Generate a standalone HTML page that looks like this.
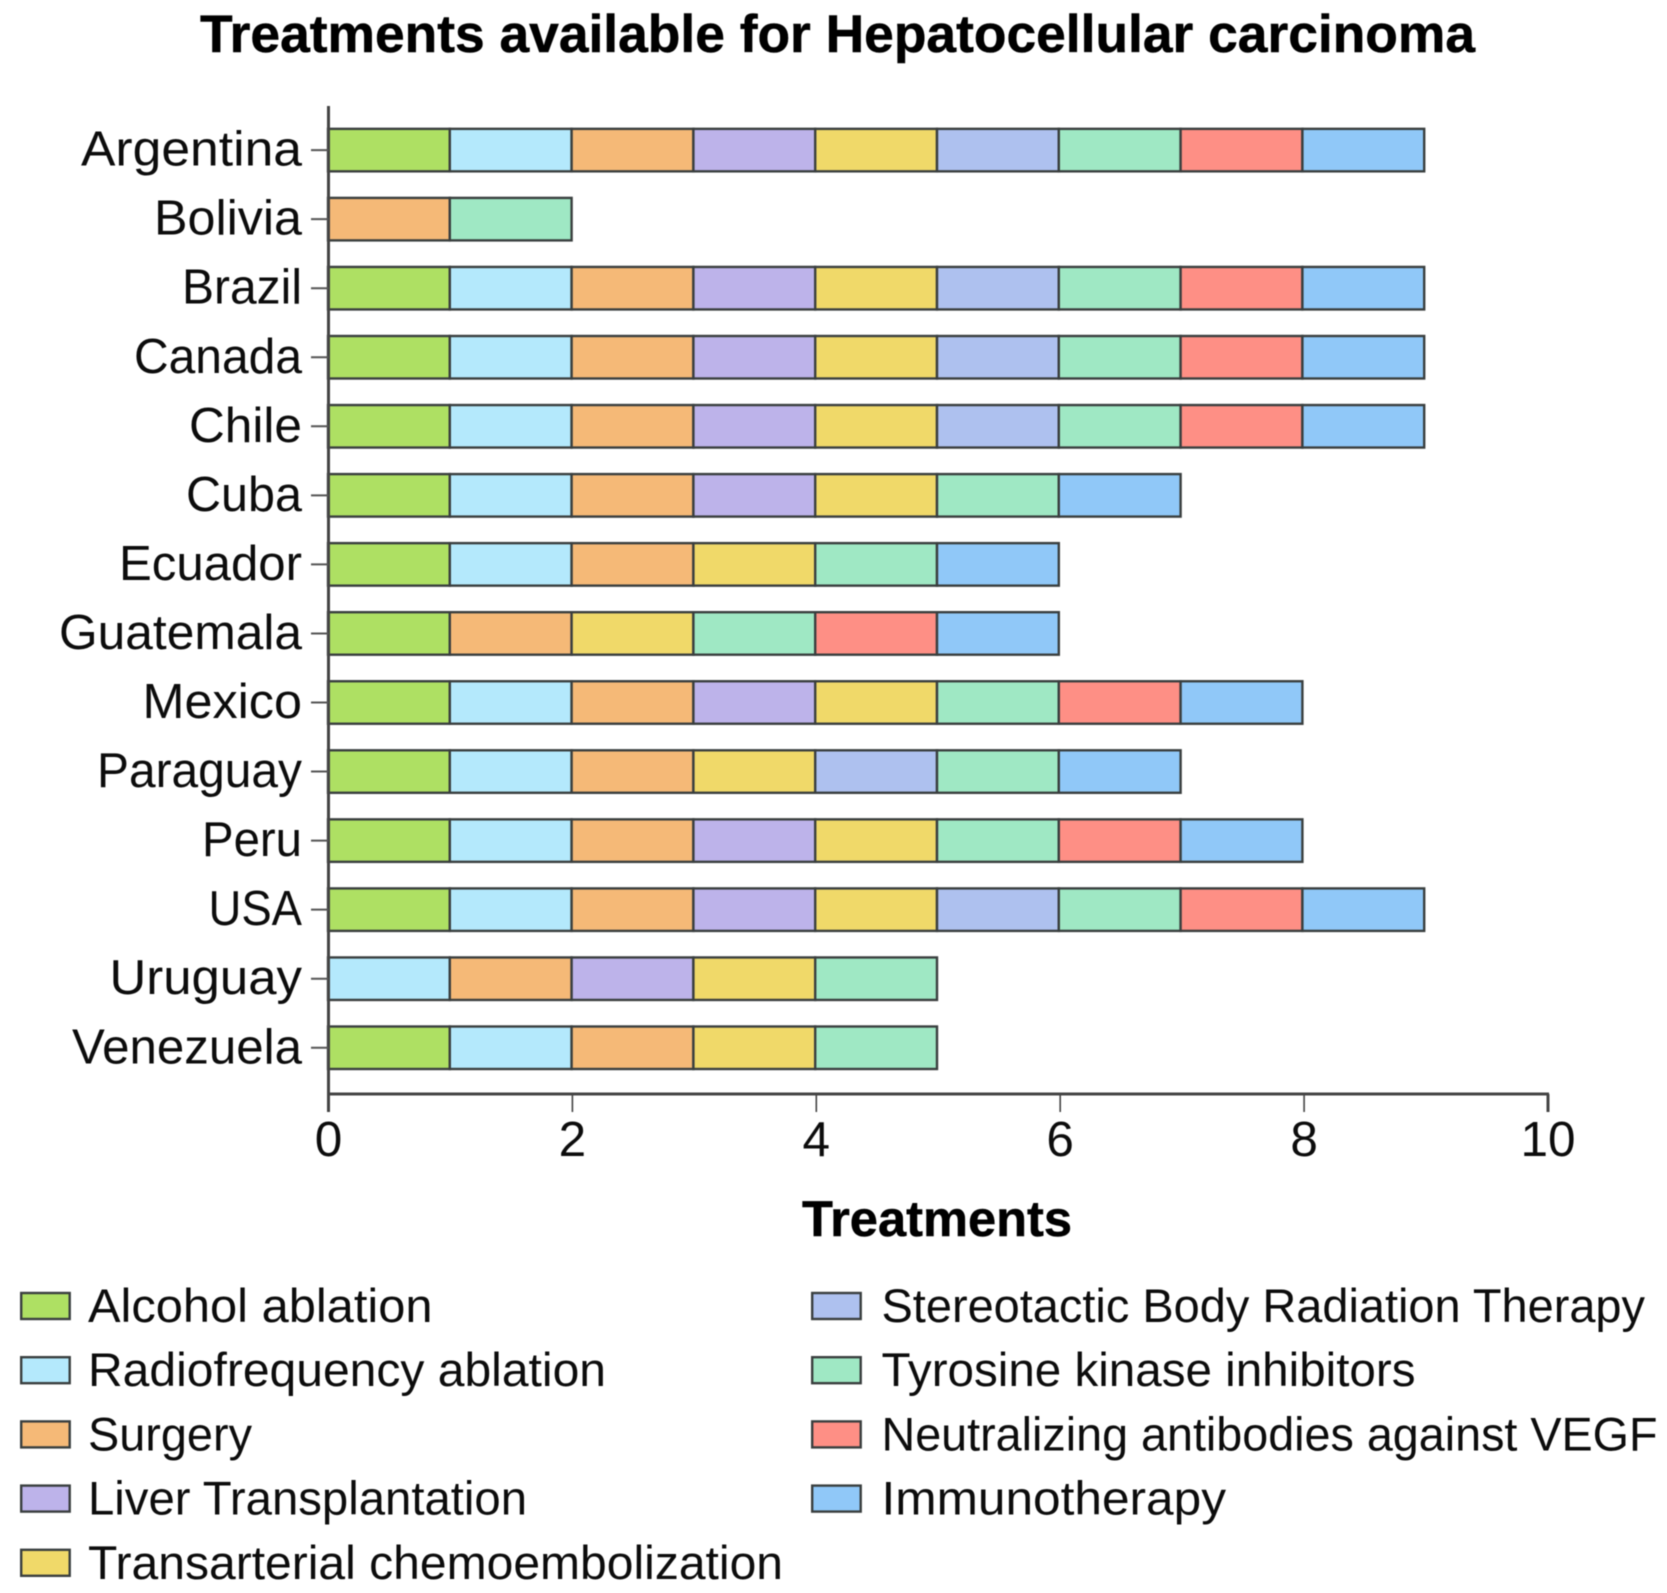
<!DOCTYPE html>
<html lang="en">
<head>
<meta charset="utf-8">
<title>Treatments available for Hepatocellular carcinoma</title>
<style>
html,body{margin:0;padding:0;background:#fff;width:1667px;height:1593px;overflow:hidden}
svg{display:block;filter:blur(0.5px)}
text{font-family:"Liberation Sans",sans-serif;fill:#0c0c0c}
</style>
</head>
<body>
<svg id="chart" xmlns="http://www.w3.org/2000/svg" width="1667" height="1593" viewBox="0 0 1667 1593">
  <text x="837.5" y="52" text-anchor="middle" font-size="53" font-weight="700" textLength="1275" lengthAdjust="spacingAndGlyphs" style="fill:#000;stroke:#000;stroke-width:0.5">Treatments available for Hepatocellular carcinoma</text>
  <text x="937" y="1236" text-anchor="middle" font-size="50" font-weight="700" textLength="270" lengthAdjust="spacingAndGlyphs" style="fill:#000;stroke:#000;stroke-width:0.5">Treatments</text>
  <g id="bars"></g>
  <g id="axes"></g>
  <g id="legend"></g>
</svg>
<script>
const countries = ["Argentina","Bolivia","Brazil","Canada","Chile","Cuba","Ecuador","Guatemala","Mexico","Paraguay","Peru","USA","Uruguay","Venezuela"];
const xTicks = [0,2,4,6,8,10];
const seriesNames = ["Alcohol ablation","Radiofrequency ablation","Surgery","Liver Transplantation","Transarterial chemoembolization","Stereotactic Body Radiation Therapy","Tyrosine kinase inhibitors","Neutralizing antibodies against VEGF","Immunotherapy"];
const seriesColors = ["#aee063","#b4e9fc","#f5b977","#bdb3ea","#f0d969","#aec1ef","#9fe8c4","#fe8f85","#90c8f8"];
const alcoholAblation = [1,0,1,1,1,1,1,1,1,1,1,1,0,1];
const radiofrequencyAblation = [1,0,1,1,1,1,1,0,1,1,1,1,1,1];
const surgery = [1,1,1,1,1,1,1,1,1,1,1,1,1,1];
const liverTransplantation = [1,0,1,1,1,1,0,0,1,0,1,1,1,0];
const transarterialChemo = [1,0,1,1,1,1,1,1,1,1,1,1,1,1];
const stereotacticRadiation = [1,0,1,1,1,0,0,0,0,1,0,1,0,0];
const tyrosineKinase = [1,1,1,1,1,1,1,1,1,1,1,1,1,1];
const antiVegf = [1,0,1,1,1,0,0,1,1,0,1,1,0,0];
const immunotherapy = [1,0,1,1,1,1,1,1,1,1,1,1,0,0];
const seriesValues = [alcoholAblation,radiofrequencyAblation,surgery,liverTransplantation,transarterialChemo,stereotacticRadiation,tyrosineKinase,antiVegf,immunotherapy];

/* Typesetting only: rendered width of a label, keyed by its text. */
const labelFit = {
  "Argentina":221,"Bolivia":148,"Brazil":120,"Canada":168,"Chile":113,"Cuba":116,"Ecuador":183,
  "Guatemala":243,"Mexico":159.5,"Paraguay":205,"Peru":100,"USA":93.5,"Uruguay":192.5,"Venezuela":230,
  "Alcohol ablation":344.5,"Radiofrequency ablation":518,"Surgery":164,"Liver Transplantation":439,
  "Transarterial chemoembolization":695,"Stereotactic Body Radiation Therapy":763.5,
  "Tyrosine kinase inhibitors":534,"Neutralizing antibodies against VEGF":776,"Immunotherapy":344.5
};

const NS = "http://www.w3.org/2000/svg";
const X0 = 328.5, X1 = 1548, XMAX = 10;
const BAR_X0 = 328, BAR_UNIT = 121.8;
const Y0 = 150.1, YSTEP = 69.05, BAR_H = 42.5;
function xScale(v){ return X0 + (v / XMAX) * (X1 - X0); }
function barX(v){ return BAR_X0 + v * BAR_UNIT; }
function yScale(i){ return Y0 + i * YSTEP; }
function slug(s){ return s.toLowerCase().replace(/[^a-z0-9]+/g, "-"); }
function make(tag, attrs, parent){
  const el = document.createElementNS(NS, tag);
  for (const k in attrs) el.setAttribute(k, attrs[k]);
  parent.appendChild(el);
  return el;
}
function fit(el, text){
  if (labelFit[text]) {
    el.setAttribute("textLength", labelFit[text]);
    el.setAttribute("lengthAdjust", "spacingAndGlyphs");
  }
}

const barsG = document.getElementById("bars");
countries.forEach(function(country, ci){
  let cum = 0;
  seriesValues.forEach(function(vals, si){
    const v = vals[ci];
    if (!v) return;
    const r = make("rect", {x:barX(cum), y:yScale(ci)-BAR_H/2, width:barX(cum+v)-barX(cum), height:BAR_H, fill:seriesColors[si], stroke:"#3a3f3f", "stroke-width":2.4}, barsG);
    
    
    cum += v;
  });
});

const axesG = document.getElementById("axes");
const yAxis = make("line", {x1:X0, x2:X0, y1:106, y2:1112, stroke:"#444", "stroke-width":3}, axesG);


const xAxis = make("line", {x1:X0, x2:X1+1, y1:1094, y2:1094, stroke:"#444", "stroke-width":3}, axesG);



countries.forEach(function(country, ci){
  const t = make("line", {x1:311, x2:X0, y1:yScale(ci), y2:yScale(ci), stroke:"#555", "stroke-width":2}, axesG);
  
  
  const lab = make("text", {x:302, y:yScale(ci)+15.5, "text-anchor":"end", "font-size":49.5}, axesG);
  lab.textContent = country;
  fit(lab, country);
  
  
});

xTicks.forEach(function(v){
  const t = make("line", {x1:xScale(v), x2:xScale(v), y1:1094, y2:1112, stroke:"#444", "stroke-width":v===0||v===XMAX?3:1.6}, axesG);
  
  
  const lab = make("text", {x:xScale(v), y:1156, "text-anchor":"middle", "font-size":49.5}, axesG);
  lab.textContent = String(v);
  
  
});

const legendG = document.getElementById("legend");
seriesNames.forEach(function(name, si){
  const col = si < 5 ? 0 : 1;
  const row = si < 5 ? si : si - 5;
  const sx = col ? 812.2 : 21.2;
  const tx = col ? 881.5 : 88;
  const cy = 1306 + row * 64.2;
  const sw = make("rect", {x:sx, y:cy-13, width:48.5, height:26, fill:seriesColors[si], stroke:"#3a3f3f", "stroke-width":2.4}, legendG);
  
  
  const lab = make("text", {x:tx, y:cy+16, "font-size":47.5}, legendG);
  lab.textContent = name;
  fit(lab, name);
  
  
});
</script>
</body>
</html>
